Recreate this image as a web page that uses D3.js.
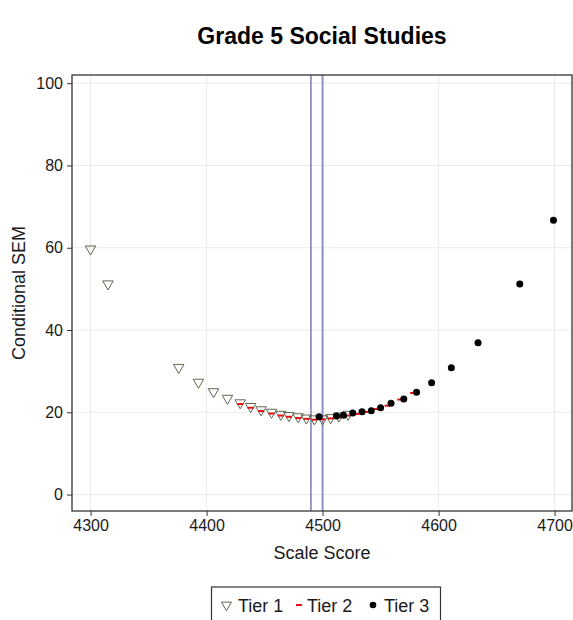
<!DOCTYPE html>
<html>
<head>
<meta charset="utf-8">
<script src="https://cdn.jsdelivr.net/npm/d3@7"></script>
<style>
html,body{margin:0;padding:0;background:#fff;}
svg{display:block;font-family:"Liberation Sans",Arial,sans-serif;}
</style>
</head>
<body>
<svg id="chart" width="573" height="620"></svg>
<script>
const title = "Grade 5 Social Studies";
const xLabel = "Scale Score";
const yLabel = "Conditional SEM";
const xTicks = [4300, 4400, 4500, 4600, 4700];
const yTicks = [0, 20, 40, 60, 80, 100];
const refLines = [4490, 4500];
const legendLabels = ["Tier 1", "Tier 2", "Tier 3"];

const tier1X = [4300, 4315, 4376, 4393, 4406, 4418, 4429, 4438, 4447, 4456, 4464, 4471, 4479, 4486, 4493, 4500, 4507, 4514, 4522];
const tier1Y = [59.7, 51.2, 30.9, 27.3, 25.0, 23.4, 22.3, 21.4, 20.6, 20.0, 19.5, 19.2, 18.9, 18.6, 18.4, 18.4, 18.7, 19.1, 19.5];

const tier2X = [4429, 4438, 4447, 4456, 4464, 4471, 4479, 4486, 4493, 4500, 4507, 4514, 4521, 4529, 4538, 4547, 4556, 4567, 4578];
const tier2Y = [22.0, 21.1, 20.3, 19.7, 19.2, 18.9, 18.6, 18.4, 18.2, 18.3, 18.5, 18.8, 19.2, 19.6, 20.1, 20.8, 21.6, 23.1, 24.7];

const tier3X = [4497, 4512, 4518, 4526, 4534, 4542, 4550, 4559, 4570, 4581, 4594, 4611, 4634, 4670, 4699];
const tier3Y = [18.9, 19.1, 19.3, 19.8, 20.1, 20.4, 21.1, 22.2, 23.2, 24.9, 27.2, 30.8, 36.9, 51.2, 66.7];

const svg = d3.select("#chart");
const L = 72, R = 572, T = 75, B = 511;
const x = d3.scaleLinear().domain([4284, 4715]).range([L, R]);
const y = d3.scaleLinear().domain([-4, 102]).range([B, T]);

// grid
const grid = svg.append("g");
grid.selectAll(".vx").data(xTicks).enter().append("line")
  .attr("x1", d => x(d)).attr("x2", d => x(d)).attr("y1", T).attr("y2", B)
  .attr("stroke", "#ebebeb").attr("stroke-width", 1);
grid.selectAll(".hy").data(yTicks).enter().append("line")
  .attr("y1", d => y(d)).attr("y2", d => y(d)).attr("x1", L).attr("x2", R)
  .attr("stroke", "#ebebeb").attr("stroke-width", 1);

// reference lines
svg.append("line").attr("x1", x(refLines[0])).attr("x2", x(refLines[0])).attr("y1", T).attr("y2", B)
  .attr("stroke", "#3a3a8e").attr("stroke-width", 1);
svg.append("line").attr("x1", x(refLines[1])).attr("x2", x(refLines[1])).attr("y1", T).attr("y2", B)
  .attr("stroke", "#8e8ec6").attr("stroke-width", 2);

// tier 1 triangles (pointing down)
const triPath = (cx, cy, s) => {
  const h = s * 0.866;
  return `M${cx - s/2},${cy - h/3}L${cx + s/2},${cy - h/3}L${cx},${cy + 2*h/3}Z`;
};
const t1 = tier1X.map((v, i) => ({x: v, y: tier1Y[i]}));
svg.append("g").selectAll("path").data(t1).enter().append("path")
  .attr("d", d => triPath(x(d.x), y(d.y), 10.5))
  .attr("fill", "none").attr("stroke", "#5d6a50").attr("stroke-width", 1);

// tier 2 dashes
const t2 = tier2X.map((v, i) => ({x: v, y: tier2Y[i]}));
svg.append("g").selectAll("line").data(t2).enter().append("line")
  .attr("x1", d => x(d.x) - 3).attr("x2", d => x(d.x) + 3)
  .attr("y1", d => y(d.y)).attr("y2", d => y(d.y))
  .attr("stroke", "#e01010").attr("stroke-width", 2);

// tier 3 dots
const t3 = tier3X.map((v, i) => ({x: v, y: tier3Y[i]}));
svg.append("g").selectAll("circle").data(t3).enter().append("circle")
  .attr("cx", d => x(d.x)).attr("cy", d => y(d.y)).attr("r", 3.5)
  .attr("fill", "#000");

// panel border
svg.append("rect").attr("x", L).attr("y", T).attr("width", R - L).attr("height", B - T)
  .attr("fill", "none").attr("stroke", "#333").attr("stroke-width", 1.3);

// axes
const xAxis = svg.append("g").attr("transform", `translate(0,${B})`)
  .call(d3.axisBottom(x).tickValues(xTicks).tickSize(5).tickPadding(4).tickFormat(d3.format("d")));
const yAxis = svg.append("g").attr("transform", `translate(${L},0)`)
  .call(d3.axisLeft(y).tickValues(yTicks).tickSize(5).tickPadding(4).tickFormat(d3.format("d")));
[xAxis, yAxis].forEach(a => {
  a.select(".domain").remove();
  a.selectAll(".tick line").attr("stroke", "#333");
  a.selectAll(".tick text").attr("fill", "#1a1a1a").style("font-size", "16px")
   .style("font-family", '"Liberation Sans", Arial, sans-serif');
});

// titles
svg.append("text").attr("x", (L + R) / 2).attr("y", 44).attr("text-anchor", "middle")
  .style("font-size", "23px").style("font-weight", "bold").attr("fill", "#000").text(title);
svg.append("text").attr("x", (L + R) / 2).attr("y", 559).attr("text-anchor", "middle")
  .style("font-size", "18px").attr("fill", "#1a1a1a").text(xLabel);
svg.append("text").attr("transform", `translate(25,${(T + B) / 2}) rotate(-90)`).attr("text-anchor", "middle")
  .style("font-size", "18px").attr("fill", "#1a1a1a").text(yLabel);

// legend
const lg = svg.append("g");
lg.append("rect").attr("x", 211.5).attr("y", 587).attr("width", 229).attr("height", 50)
  .attr("fill", "#fff").attr("stroke", "#333").attr("stroke-width", 1.2);
const ly = 605;
lg.append("path").attr("d", triPath(226.5, ly, 10)).attr("fill", "none").attr("stroke", "#5d6a50");
lg.append("line").attr("x1", 296).attr("x2", 302).attr("y1", ly).attr("y2", ly).attr("stroke", "#e01010").attr("stroke-width", 2);
lg.append("circle").attr("cx", 373).attr("cy", ly).attr("r", 3.3).attr("fill", "#000");
const lx = [238, 307, 384];
legendLabels.forEach((t, i) => {
  lg.append("text").attr("x", lx[i]).attr("y", ly + 6.5).style("font-size", "18px").attr("fill", "#1a1a1a").text(t);
});
</script>
</body>
</html>
